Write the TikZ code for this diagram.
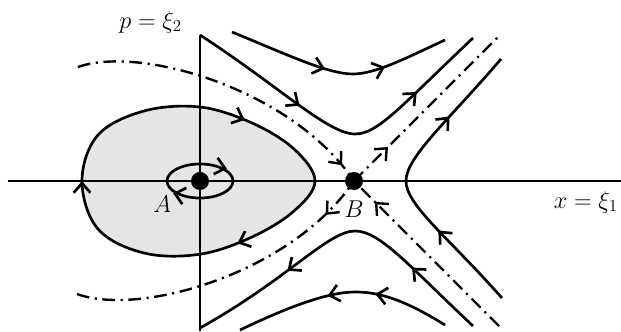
\documentclass[tikz,border=0pt]{standalone}
\usepackage{tikz}
\usetikzlibrary{positioning,arrows.meta,decorations.markings}

\begin{document}
\begin{tikzpicture}[
    >={Straight Barb[length=2.4mm,width=4.2mm]},
    axis/.style={line width=0.9pt},
    orbit/.style={line width=1.9pt},
    sepx/.style={line width=1.7pt, dash pattern=on 9pt off 4pt on 1.5pt off 4pt},
    flow/.style={postaction={decorate,decoration={markings,mark=at position #1 with {\arrow{>}}}}},
    back/.style={postaction={decorate,decoration={markings,mark=at position #1 with {\arrow{<}}}}},
    fixpt/.style={circle, fill=black, inner sep=0pt, minimum size=4.5mm},
    lbl/.style={font=\LARGE, inner sep=0pt}
]
\useasboundingbox (-5,-3.75) rectangle (10.525,4.525);
\coordinate (cA) at (0,0);
\coordinate (cB) at (3.85,0);

% trapped orbits round A
\filldraw[orbit, fill=gray!20, flow=0.085, flow=0.425, flow=0.755]
  plot[smooth cycle, tension=0.6] coordinates {(-1.4,-1.8) (-2.55,-1.2) (-2.95,0) (-2.55,1.15) (-1.4,1.75) (0,1.85) (1.3,1.45) (2.35,0.8) (2.875,0) (2.35,-0.75) (1.3,-1.4) (0,-1.83)};

% axes
\draw[axis] (-4.8,0) -- (10.525,0);
\draw[axis] (0,3.65) -- (0,-3.75);

\draw[orbit, back=0.16, back=0.66] (cA) ellipse (0.825 and 0.425);

% separatrices through B
\draw[sepx, flow=0.937] (-3.05,2.85) .. controls (-1.5,3.4) and (2.3,2.3) .. (cB);
\draw[sepx, flow=0.856] (7.475,-3.625) -- (cB);
\draw[sepx, flow=0.234] (cB) -- (7.475,3.625);
\draw[sepx, back=0.9] (-3.075,-2.825) .. controls (-1.5,-3.4) and (2.3,-2.3) .. (cB);

% passing orbits
\draw[orbit, flow=0.36, flow=0.77] (0,3.65) .. controls (2.0,2.35) and (3.2,1.175) .. (3.875,1.175)
  .. controls (4.45,1.175) and (5.0,1.85) .. (6.825,3.575);
\draw[orbit, flow=0.44, flow=0.71] (0.8,3.725) .. controls (2.2,3.15) and (3.2,2.675) .. (3.825,2.675)
  .. controls (4.4,2.675) and (5.2,3.1) .. (6.125,3.525);
\draw[orbit, flow=0.30, flow=0.75] (7.55,-2.925) .. controls (6.2,-1.4) and (5.15,-0.6) .. (5.15,0)
  .. controls (5.15,0.6) and (6.2,1.5) .. (7.525,3.05);
\draw[orbit, flow=0.25, flow=0.69] (6.825,-3.625) .. controls (5.2,-2.1) and (4.5,-1.25) .. (3.875,-1.25)
  .. controls (3.2,-1.25) and (2.2,-2.45) .. (0,-3.675);
\draw[orbit, flow=0.35, flow=0.57] (6.125,-3.6) .. controls (5.0,-2.9) and (4.4,-2.775) .. (3.875,-2.775)
  .. controls (3.2,-2.775) and (2.2,-3.15) .. (1,-3.725);

% fixed points
\node[fixpt] (A) at (cA) {};
\node[fixpt] (B) at (cB) {};
\node[lbl, below left=0.2cm and 0.55cm of A] (labA) {$A$};
\node[lbl, below=0.25cm of B] (labB) {$B$};
\node[lbl, anchor=base east] (labx) at (10.45,-0.675) {$x=\xi_1$};
\node[lbl, anchor=base east] (labp) at (-0.45,3.825) {$p=\xi_2$};
\end{tikzpicture}
\end{document}
